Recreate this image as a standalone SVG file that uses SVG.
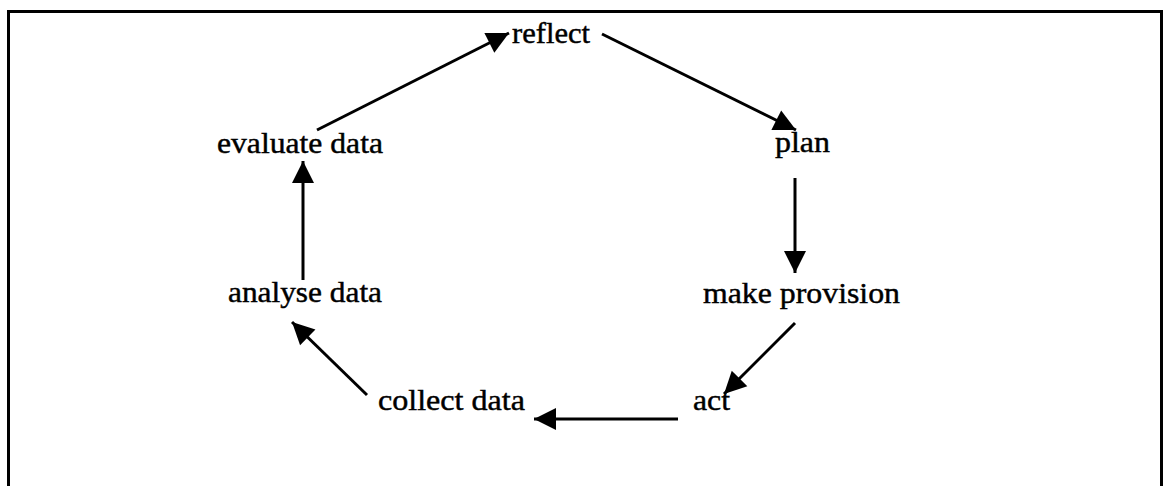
<svg xmlns="http://www.w3.org/2000/svg" width="1168" height="486" viewBox="0 0 1168 486">
  <style>
    .frame { fill: none; stroke: #000; stroke-width: 3; }
    .label { font-family: "Liberation Serif", "Times New Roman", serif; font-size: 30px; fill: #000; stroke: #000; stroke-width: 0.45; }
    .edge { fill: none; stroke: #000; stroke-width: 3; stroke-linecap: butt; marker-end: url(#head); }
  </style>
  <defs>
    <marker id="head" markerUnits="userSpaceOnUse" markerWidth="23" markerHeight="23" refX="22" refY="11" orient="auto" overflow="visible">
      <path d="M0,0 L22,11 L0,22 Z" fill="#000"/>
    </marker>
  </defs>

  <rect width="1168" height="486" fill="#fff"/>
  <!-- outer frame, open at the bottom edge of the page -->
  <rect class="frame" x="8.5" y="11.5" width="1153" height="520"/>

  <g id="connectors">
    <line class="edge" x1="317" y1="130" x2="509" y2="33"/>
    <line class="edge" x1="602" y1="34" x2="796" y2="130"/>
    <line class="edge" x1="795" y1="178" x2="795" y2="273"/>
    <line class="edge" x1="795" y1="323" x2="724" y2="394"/>
    <line class="edge" x1="678" y1="419" x2="534" y2="419"/>
    <line class="edge" x1="367" y1="395" x2="292" y2="322"/>
    <line class="edge" x1="303" y1="280" x2="303" y2="161"/>
  </g>

  <g id="node-reflect">
    <text class="label" x="512" y="43" textLength="78" lengthAdjust="spacingAndGlyphs">reflect</text>
  </g>
  <g id="node-plan">
    <text class="label" x="775" y="152" textLength="55" lengthAdjust="spacingAndGlyphs">plan</text>
  </g>
  <g id="node-make-provision">
    <text class="label" x="703" y="303" textLength="197" lengthAdjust="spacingAndGlyphs">make provision</text>
  </g>
  <g id="node-act">
    <text class="label" x="693" y="410" textLength="37" lengthAdjust="spacingAndGlyphs">act</text>
  </g>
  <g id="node-collect-data">
    <text class="label" x="378" y="410" textLength="147" lengthAdjust="spacingAndGlyphs">collect data</text>
  </g>
  <g id="node-analyse-data">
    <text class="label" x="228" y="302" textLength="154" lengthAdjust="spacingAndGlyphs">analyse data</text>
  </g>
  <g id="node-evaluate-data">
    <text class="label" x="217" y="153" textLength="166" lengthAdjust="spacingAndGlyphs">evaluate data</text>
  </g>
</svg>
